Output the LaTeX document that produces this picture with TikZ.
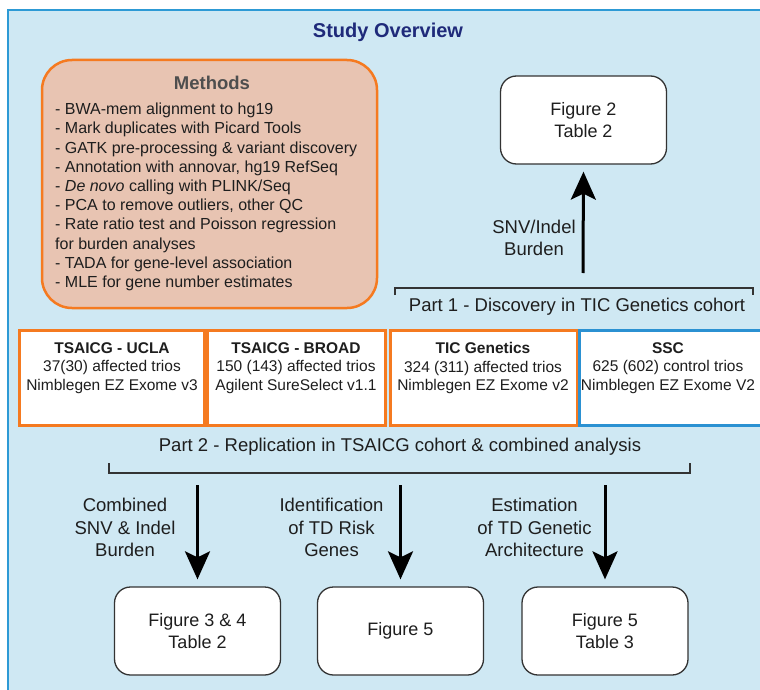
\documentclass[tikz,border=0pt]{standalone}
\usepackage{fontspec}
\setmainfont{Liberation Sans}
\usepackage{tikz}
\usetikzlibrary{arrows.meta,calc,positioning}
\definecolor{bgblue}{HTML}{CFE8F3}
\definecolor{edgeblue}{HTML}{2D9AD5}
\definecolor{methfill}{HTML}{E8C4B2}
\definecolor{orng}{HTML}{F57A20}
\definecolor{sscblue}{HTML}{2B91D2}
\definecolor{navy}{HTML}{1F2A7A}
\definecolor{txt}{HTML}{1E1E1E}
\definecolor{headgray}{HTML}{4E4E4E}
\definecolor{boxgray}{HTML}{333333}
\newcommand\fs[2]{\fontsize{#1}{#2}\selectfont}
\tikzset{
  >={Stealth[length=28pt,width=25pt,inset=6pt]},
  figbox/.style={draw=boxgray,line width=1.3pt,rounded corners=16pt,fill=white,
    minimum width=166pt,minimum height=88pt,align=center,font=\fs{18}{22.5},text=txt},
  cohort/.style={draw=#1,line width=3pt,fill=white,minimum height=95pt,inner sep=0pt},
  ctxt/.style={align=center,font=\fs{15.5}{18.5},text=txt,inner sep=0pt},
  lbl/.style={align=center,font=\fs{18.5}{22.5},text=txt,inner sep=0pt},
  brk/.style={draw=boxgray,line width=1.5pt},
  flow/.style={->,line width=3pt,shorten >=7pt},
}

\begin{document}
\begin{tikzpicture}[x=1pt,y=-1pt]
\useasboundingbox (0,0) rectangle (760,690);
% panel
\fill[bgblue] (8,10) rectangle (775,700);
\draw[edgeblue,line width=2.5pt] (8,700) -- (8,10) -- (775,10);
\node[font=\fs{20}{24}\bfseries,text=navy] (title) at (388,32) {Study Overview};
% methods
\node[draw=orng,fill=methfill,line width=2.5pt,rounded corners=30pt,
  minimum width=335pt,minimum height=248pt] (methods) at (209.5,184) {};
\node[font=\fs{18.5}{22}\bfseries,text=headgray] (mhead) at (212,83) {Methods};
\node[align=left,font=\fs{16}{19.2},text=txt,inner sep=0pt,anchor=west] (mlist) at (55,197)
  {- BWA-mem alignment to hg19\\
   - Mark duplicates with Picard Tools\\
   - GATK pre-processing \& variant discovery\\
   - Annotation with annovar, hg19 RefSeq\\
   - \textit{De novo} calling with PLINK/Seq\\
   - PCA to remove outliers, other QC\\
   - Rate ratio test and Poisson regression\\
   for burden analyses\\
   - TADA for gene-level association\\
   - MLE for gene number estimates};
% part 1
\node[figbox] (fig2) at (583.5,120) {Figure 2\\Table 2};
\coordinate (p1) at (583,273);
\draw[flow] (p1) -- (fig2.south);
\node[lbl] (snv) at (534,238) {SNV/Indel\\Burden};
\draw[brk] (395,295) -- (395,288) -- (753,288) -- (753,295);
\node[lbl] (part1) at (577,307) {Part 1 - Discovery in TIC Genetics cohort};
% cohorts
\node[cohort=orng,minimum width=185pt] (ucla) at (111.5,377.5) {};
\node[cohort=orng,minimum width=178pt] (broad) at (296,377.5) {};
\node[cohort=orng,minimum width=187pt] (tic) at (483.5,377.5) {};
\node[cohort=sscblue,minimum width=200pt] (ssc) at (679,377.5) {};
\node[ctxt] (uclaT) at (112,368) {\textbf{TSAICG - UCLA}\\37(30) affected trios\\Nimblegen EZ Exome v3};
\node[ctxt] (broadT) at (296,368) {\textbf{TSAICG - BROAD}\\150 (143) affected trios\\Agilent SureSelect v1.1};
\node[ctxt] (ticT) at (483,368) {\textbf{TIC Genetics}\\324 (311) affected trios\\Nimblegen EZ Exome v2};
\node[ctxt] (sscT) at (668,368) {\textbf{SSC}\\625 (602) control trios\\Nimblegen EZ Exome V2};
% part 2
\node[lbl] (part2) at (400,447) {Part 2 - Replication in TSAICG cohort \& combined analysis};
\draw[brk] (109,463) -- (109,473) -- (690,473) -- (690,463);
\node[figbox] (f34) at (197.5,631) {Figure 3 \& 4\\Table 2};
\node[figbox] (f5) at (400.5,631) {Figure 5};
\node[figbox] (f5t3) at (605,631) {Figure 5\\Table 3};
\coordinate (a1) at (197.5,485);
\coordinate (a2) at (400.5,485);
\coordinate (a3) at (605,485);
\draw[flow] (a1) -- (f34.north);
\draw[flow] (a2) -- (f5.north);
\draw[flow] (a3) -- (f5t3.north);
\node[lbl] (l1) at (125,527.5) {Combined\\SNV \& Indel\\Burden};
\node[lbl] (l2) at (331.5,527.5) {Identification\\of TD Risk\\Genes};
\node[lbl] (l3) at (534.5,527.5) {Estimation\\of TD Genetic\\Architecture};
\end{tikzpicture}
\end{document}
